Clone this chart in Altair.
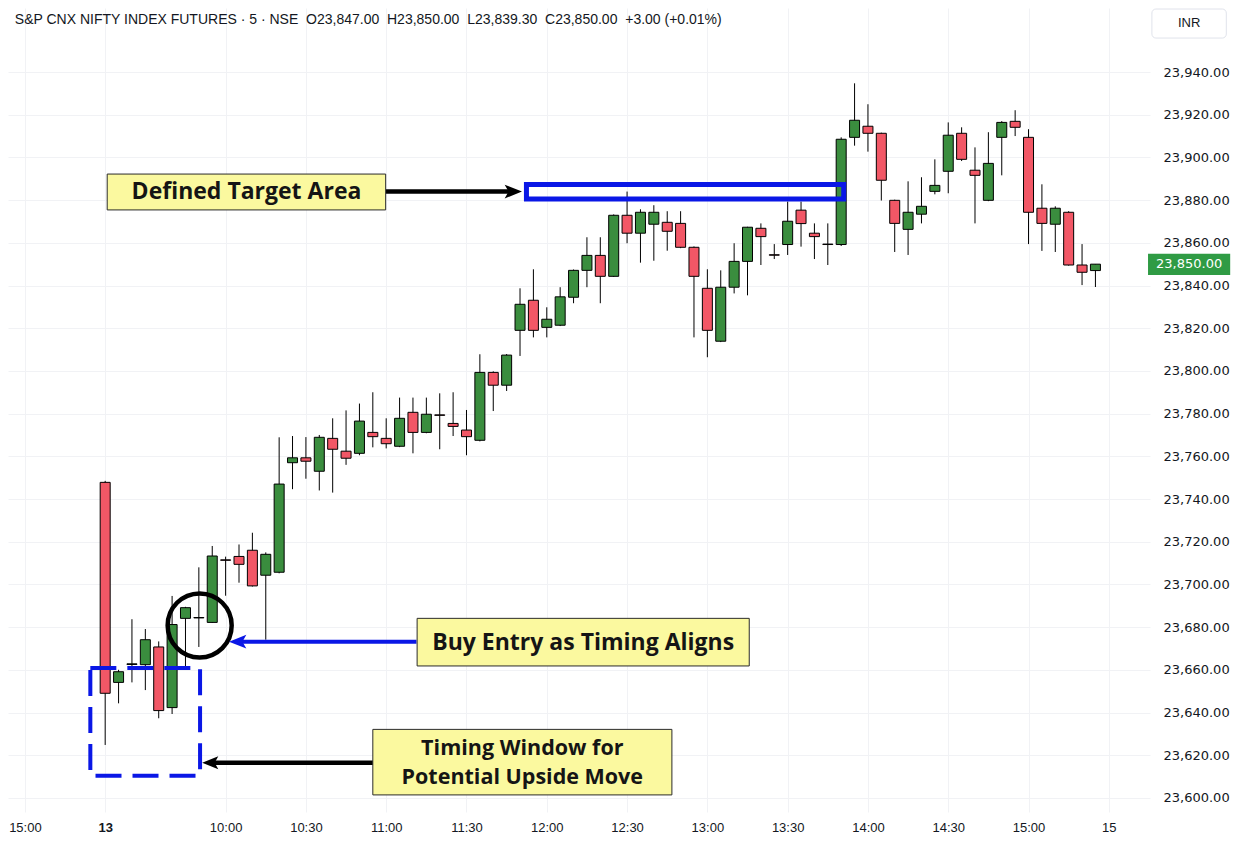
import json
import altair as alt
import pandas as pd

# ---------------- data ----------------
idx = list(range(75))
opens = [23747.8, 23654.1, 23662.5, 23662.4, 23670.7, 23642.3, 23684.1, 23684.5, 23682.2, 23711.5,
         23713.1, 23716.0, 23704.3, 23705.7, 23757.0, 23759.3, 23753.0, 23768.4, 23762.4, 23761.4,
         23771.2, 23768.4, 23764.7, 23780.6, 23771.2, 23779.4, 23775.4, 23772.3, 23767.5, 23799.3,
         23793.3, 23819.0, 23833.1, 23820.4, 23821.4, 23834.5, 23847.1, 23854.1, 23844.3, 23872.9,
         23864.5, 23868.7, 23869.6, 23869.1, 23857.9, 23838.7, 23813.9, 23839.2, 23851.3, 23866.8,
         23854.4, 23859.2, 23875.3, 23864.5, 23859.4, 23859.2, 23909.4, 23914.6, 23911.3, 23879.9,
         23866.3, 23873.4, 23884.1, 23893.5, 23911.3, 23894.0, 23879.9, 23909.4, 23916.9, 23909.4,
         23876.2, 23868.7, 23874.3, 23849.6, 23847.0]
highs = [23748.5, 23660.0, 23683.7, 23679.1, 23673.3, 23694.6, 23689.5, 23708.0, 23718.0, 23713.0,
         23718.7, 23724.2, 23715.0, 23768.9, 23769.5, 23769.0, 23770.0, 23777.8, 23781.5, 23784.7,
         23790.0, 23777.8, 23787.5, 23787.5, 23787.5, 23789.5, 23790.0, 23781.7, 23807.8, 23799.8,
         23807.9, 23838.7, 23847.6, 23829.8, 23839.2, 23847.5, 23862.6, 23862.6, 23873.3, 23884.0,
         23875.7, 23877.6, 23874.8, 23874.8, 23858.3, 23847.6, 23847.1, 23859.8, 23867.5, 23869.1,
         23859.4, 23879.3, 23879.3, 23869.1, 23869.1, 23909.4, 23934.7, 23924.9, 23911.6, 23880.2,
         23888.8, 23890.7, 23899.1, 23916.4, 23914.1, 23904.7, 23911.8, 23917.0, 23922.1, 23913.2,
         23887.4, 23877.1, 23874.8, 23859.4, 23850.0]
lows = [23624.8, 23644.3, 23654.1, 23650.5, 23637.3, 23639.3, 23661.5, 23670.7, 23682.0, 23694.7,
        23700.8, 23699.0, 23674.1, 23705.2, 23744.6, 23749.5, 23744.0, 23743.0, 23756.0, 23760.5,
        23764.2, 23763.7, 23764.3, 23761.4, 23770.8, 23763.3, 23769.5, 23760.5, 23767.0, 23781.2,
        23790.6, 23807.0, 23815.7, 23815.7, 23821.0, 23831.7, 23839.2, 23831.7, 23844.0, 23859.8,
        23850.7, 23851.6, 23856.3, 23857.5, 23815.7, 23806.4, 23813.5, 23836.3, 23835.4, 23849.6,
        23852.4, 23854.3, 23858.2, 23852.4, 23849.6, 23858.5, 23905.5, 23902.7, 23879.8, 23855.7,
        23854.3, 23869.1, 23882.7, 23883.2, 23898.3, 23869.1, 23879.5, 23891.6, 23910.0, 23859.4,
        23856.2, 23855.7, 23849.3, 23840.2, 23839.3]
closes = [23649.0, 23659.1, 23662.8, 23674.1, 23640.9, 23681.2, 23689.1, 23684.3, 23713.3, 23711.3,
          23709.4, 23699.3, 23714.1, 23747.0, 23759.3, 23757.7, 23768.9, 23763.3, 23759.1, 23776.5,
          23769.2, 23765.9, 23777.8, 23771.2, 23779.7, 23779.2, 23774.0, 23769.2, 23799.3, 23793.3,
          23807.4, 23831.2, 23819.0, 23824.2, 23834.7, 23847.1, 23854.1, 23844.3, 23872.9, 23864.5,
          23874.3, 23874.3, 23865.4, 23857.9, 23844.3, 23819.0, 23839.2, 23851.3, 23867.3, 23862.9,
          23854.2, 23870.1, 23869.0, 23862.9, 23859.2, 23908.5, 23917.4, 23911.3, 23889.3, 23869.1,
          23874.3, 23877.1, 23886.9, 23910.4, 23899.1, 23891.6, 23897.2, 23916.4, 23914.1, 23874.3,
          23869.1, 23876.2, 23849.6, 23846.2, 23850.0]

x_ticks = [-6, 0, 9, 15, 21, 27, 33, 39, 45, 51, 57, 63, 69, 75]
x_tick_labels = ["15:00", "13", "10:00", "10:30", "11:00", "11:30", "12:00", "12:30",
                 "13:00", "13:30", "14:00", "14:30", "15:00", "15"]
y_ticks = list(range(23600, 23941, 20))

NB = "\u00a0"
header = ("S&P CNX NIFTY INDEX FUTURES \u00b7 5 \u00b7 NSE" + NB * 2 + "O23,847.00" + NB * 2 +
          "H23,850.00" + NB * 2 + "L23,839.30" + NB * 2 + "C23,850.00" + NB * 2 + "+3.00 (+0.01%)")
last_price = 23850.0

# ---------------- styles ----------------
GREEN = "#3a8d3e"
RED = "#f25766"
BLUE = "#0a17e6"
YELLOW = "#fbf99f"
TXT = "#131722"
GRID = "#f1f2f5"
LABEL_FONT = "Open Sans"

X_SCALE = alt.Scale(domain=[-6.889, 77.704], nice=False, zero=False)
Y_SCALE = alt.Scale(domain=[23593.40, 23969.98], nice=False, zero=False)

label_expr = f"{json.dumps(x_tick_labels)}[indexof({json.dumps(x_ticks)}, datum.value)]"
X_AXIS = alt.Axis(values=x_ticks, labelExpr=label_expr, grid=True, gridColor=GRID,
                  domain=False, ticks=False, labelFont="Liberation Sans", labelFontSize=13,
                  labelColor=TXT, labelPadding=9, title=None, labelFlush=False,
                  labelOverlap=False,
                  labelFontWeight={"condition": {"test": "datum.value === 0", "value": "bold"},
                                   "value": "normal"})
Y_AXIS = alt.Axis(orient="right", values=y_ticks, format=",.2f", grid=True, gridColor=GRID,
                  domain=False, ticks=False, labelFont="DejaVu Sans", labelFontSize=13,
                  labelColor=TXT, labelPadding=13, title=None, labelFlush=False,
                  labelOverlap=False)

df = pd.DataFrame({"i": idx, "open": opens, "high": highs, "low": lows, "close": closes})
df["dir"] = ["up" if c >= o else "down" for o, c in zip(opens, closes)]


def X(field):
    return alt.X(field, type="quantitative", scale=X_SCALE, axis=X_AXIS)


def Y(field):
    return alt.Y(field, type="quantitative", scale=Y_SCALE, axis=Y_AXIS)


wicks = alt.Chart(df).mark_rule(color="#000000", strokeWidth=1).encode(
    x=X("i"), y=Y("low"), y2="high")
bodies = alt.Chart(df).mark_bar(size=10, stroke="#000000", strokeWidth=1).encode(
    x=X("i"), y=Y("open"), y2="close",
    color=alt.Color("dir:N", scale=alt.Scale(domain=["up", "down"], range=[GREEN, RED]), legend=None),
)

# ---------------- annotations (data units) ----------------
boxes = pd.DataFrame([
    {"x": 0.15, "x2": 20.96, "y": 23892.2, "y2": 23875.4},     # Defined Target Area
    {"x": 23.31, "x2": 48.13, "y": 23684.1, "y2": 23661.8},    # Buy Entry
    {"x": 20.0, "x2": 42.35, "y": 23632.1, "y2": 23601.4},     # Timing Window
])
box_layer = alt.Chart(boxes).mark_rect(fill=YELLOW, stroke="#2b2b2b", strokeWidth=1).encode(
    x=X("x"), x2="x2", y=Y("y"), y2="y2")

texts = pd.DataFrame([
    {"x": 10.56, "y": 23883.6, "t": "Defined Target Area"},
    {"x": 35.72, "y": 23672.7, "t": "Buy Entry as Timing Aligns"},
])
text_layer = alt.Chart(texts).mark_text(font=LABEL_FONT, fontSize=23, fontWeight=700,
                                        color="#151515", baseline="middle", align="center").encode(
    x=X("x"), y=Y("y"), text="t:N")

texts2 = pd.DataFrame([
    {"x": 31.17, "y": 23622.9, "t": "Timing Window for\nPotential Upside Move"},
])
text_layer2 = alt.Chart(texts2).mark_text(font=LABEL_FONT, fontSize=21.5, fontWeight=700,
                                          color="#151515", baseline="middle", align="center",
                                          lineBreak="\n", lineHeight=29).encode(
    x=X("x"), y=Y("y"), text="t:N")

target = pd.DataFrame([{"x": 31.48, "x2": 55.19, "y": 23887.3, "y2": 23880.5}])
target_layer = alt.Chart(target).mark_rect(fill="transparent", stroke=BLUE, strokeWidth=5).encode(
    x=X("x"), x2="x2", y=Y("y"), y2="y2")

window = pd.DataFrame([{"x": -1.11, "x2": 7.09, "y": 23660.85, "y2": 23610.4}])
window_layer = alt.Chart(window).mark_rect(fill="transparent", stroke=BLUE, strokeWidth=4,
                                           strokeDash=[26, 11]).encode(
    x=X("x"), x2="x2", y=Y("y"), y2="y2")

circle = pd.DataFrame([{"x": 7.06, "y": 23680.8}])
circle_layer = alt.Chart(circle).mark_point(shape="circle", filled=False, stroke="#000000",
                                            strokeWidth=4.5, size=4100, opacity=1).encode(
    x=X("x"), y=Y("y"))

arrows_black = pd.DataFrame([
    {"x": 20.96, "x2": 30.5, "y": 23884.0},
    {"x": 20.05, "x2": 7.9, "y": 23616.5},
])
arrows_black_layer = alt.Chart(arrows_black).mark_rule(color="#000000", strokeWidth=4.5).encode(
    x=X("x"), x2="x2", y=Y("y"))
arrows_blue = pd.DataFrame([{"x": 23.26, "x2": 10.0, "y": 23673.2}])
arrows_blue_layer = alt.Chart(arrows_blue).mark_rule(color=BLUE, strokeWidth=4).encode(
    x=X("x"), x2="x2", y=Y("y"))

RIGHT_HEAD = "M 1 0 L -1 -0.8 L -0.55 0 L -1 0.8 Z"
LEFT_HEAD = "M -1 0 L 1 -0.8 L 0.55 0 L 1 0.8 Z"
head_r = alt.Chart(pd.DataFrame([{"x": 30.5, "y": 23884.0}])).mark_point(
    shape=RIGHT_HEAD, filled=True, color="#000000", size=300, opacity=1).encode(x=X("x"), y=Y("y"))
head_l_black = alt.Chart(pd.DataFrame([{"x": 7.85, "y": 23616.5}])).mark_point(
    shape=LEFT_HEAD, filled=True, color="#000000", size=260, opacity=1).encode(x=X("x"), y=Y("y"))
head_l_blue = alt.Chart(pd.DataFrame([{"x": 9.9, "y": 23673.2}])).mark_point(
    shape=LEFT_HEAD, filled=True, color=BLUE, size=300, opacity=1).encode(x=X("x"), y=Y("y"))

# ---------------- header, price tag, currency box ----------------
header_layer = alt.Chart(pd.DataFrame([{"x": -6.75, "y": 23964.4, "t": header}])).mark_text(
    font="Liberation Sans", fontSize=14, color=TXT, align="left", baseline="middle").encode(
    x=X("x"), y=Y("y"), text="t:N")

tag = pd.DataFrame([{"x": 77.93, "x2": 84.07, "y": last_price + 4.9, "y2": last_price - 5.1,
                     "xc": 81.0, "yc": last_price, "t": f"{last_price:,.2f}"}])
tag_rect = alt.Chart(tag).mark_rect(fill="#2f9b44").encode(x=X("x"), x2="x2", y=Y("y"), y2="y2")
tag_text = alt.Chart(tag).mark_text(font="DejaVu Sans", fontSize=13, color="#ffffff",
                                    baseline="middle", align="center").encode(
    x=X("xc"), y=Y("yc"), text="t:N")

inr = pd.DataFrame([{"x": 78.22, "x2": 83.78, "y": 23969.5, "y2": 23955.9, "xc": 81.0,
                     "yc": 23962.9, "t": "INR"}])
inr_rect = alt.Chart(inr).mark_rect(fill="#ffffff", stroke="#e0e3eb", strokeWidth=1,
                                    cornerRadius=4).encode(x=X("x"), x2="x2", y=Y("y"), y2="y2")
inr_text = alt.Chart(inr).mark_text(font="Liberation Sans", fontSize=13, color=TXT,
                                    baseline="middle", align="center").encode(
    x=X("xc"), y=Y("yc"), text="t:N")

chart = alt.layer(
    wicks, bodies, target_layer, window_layer, circle_layer,
    arrows_black_layer, arrows_blue_layer, head_r, head_l_black, head_l_blue,
    box_layer, text_layer, text_layer2, header_layer, tag_rect, tag_text, inr_rect, inr_text,
).properties(
    width=1142, height=804,
    autosize=alt.AutoSizeParams(type="none"),
    padding={"left": 0, "top": 0, "right": 83, "bottom": 22},
    background="#ffffff",
).configure_view(stroke=None)

chart.save("out.html", embed_options={"renderer": "svg", "actions": False})
